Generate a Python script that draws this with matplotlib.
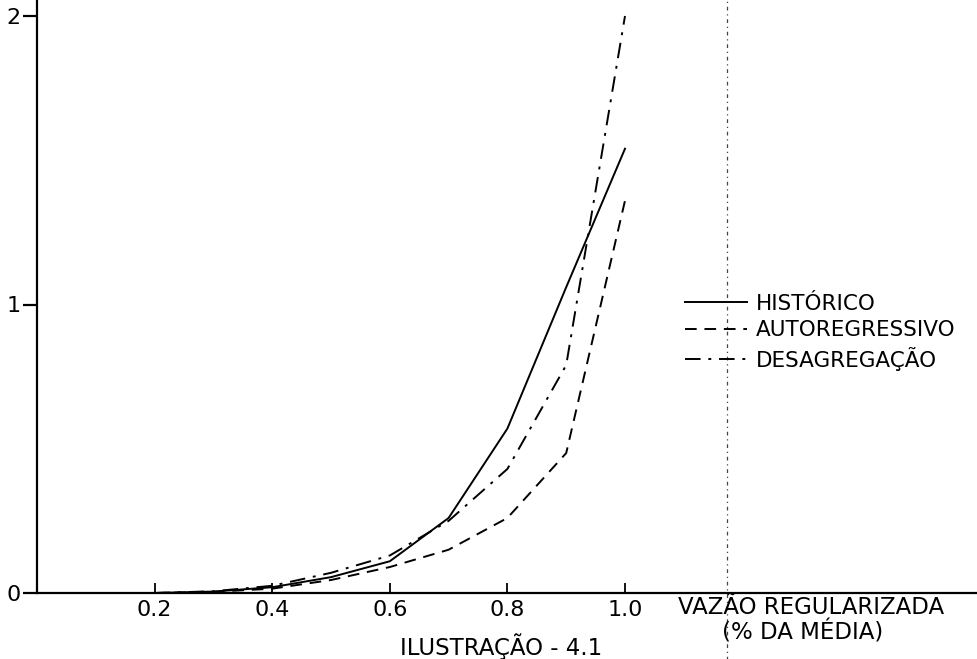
import matplotlib
matplotlib.use("Agg")
import matplotlib.pyplot as plt

# Data
vazao = [0.2, 0.3, 0.4, 0.5, 0.6, 0.7, 0.8, 0.9, 1.0]
historico = [0.0, 0.005, 0.02, 0.055, 0.11, 0.26, 0.57, 1.06, 1.54]
autoregressivo = [0.0, 0.004, 0.015, 0.045, 0.09, 0.15, 0.26, 0.485, 1.36]
desagregacao = [0.0, 0.006, 0.025, 0.07, 0.13, 0.25, 0.43, 0.79, 2.0]

x_ticks = [0.2, 0.4, 0.6, 0.8, 1.0]
x_tick_labels = ["0.2", "0.4", "0.6", "0.8", "1.0"]
y_ticks = [0, 1, 2]
y_tick_labels = ["0", "1", "2"]
vline_x = 1.173

W, H = 978, 659
fig = plt.figure(figsize=(W / 100, H / 100), dpi=100)
fig.patch.set_facecolor("white")

left_px, bottom_px = 37, 593
ax = fig.add_axes([left_px / W, (H - bottom_px) / H, (W - left_px) / W, bottom_px / H])
ax.set_xlim(0, (W - left_px) / 588)
ax.set_ylim(0, bottom_px / 288.5)

for s in ["top", "right"]:
    ax.spines[s].set_visible(False)
for s in ["left", "bottom"]:
    ax.spines[s].set_linewidth(1.6)
    ax.spines[s].set_color("black")

ax.plot(vazao, historico, color="black", lw=1.4, ls="-", label="HISTÓRICO")
ax.plot(vazao, autoregressivo, color="black", lw=1.4, ls=(0, (6, 4)), label="AUTOREGRESSIVO")
ax.plot(vazao, desagregacao, color="black", lw=1.4, ls=(0, (8, 4, 1.5, 4)), label="DESAGREGAÇÃO")

ax.axvline(vline_x, ymin=-0.12, ymax=1, color="#444444", lw=0.9, ls=(0, (3, 3, 1, 3)), clip_on=False)

ax.set_xticks(x_ticks)
ax.set_xticklabels(x_tick_labels)
ax.set_yticks(y_ticks)
ax.set_yticklabels(y_tick_labels)
ax.tick_params(axis="x", direction="in", length=7, width=1.3, labelsize=16, pad=5)
ax.tick_params(axis="y", direction="out", length=10, width=1.6, labelsize=16, pad=2)

leg = ax.legend(loc="upper left", bbox_to_anchor=(685 / W, 1 - 294 / H),
                bbox_transform=fig.transFigure, frameon=False, fontsize=15.5,
                handlelength=2.9, handletextpad=0.37, labelspacing=0.3,
                borderpad=0, borderaxespad=0)

fig.text(678 / W, 1 - 608 / H, "VAZÃO REGULARIZADA", fontsize=16.5, ha="left", va="center")
fig.text(722 / W, 1 - 632 / H, "(% DA MÉDIA)", fontsize=16.5, ha="left", va="center")
fig.text(501 / W, 1 - 647 / H, "ILUSTRAÇÃO - 4.1", fontsize=16.5, ha="center", va="center")

fig.savefig("out.png", dpi=100, facecolor="white")
